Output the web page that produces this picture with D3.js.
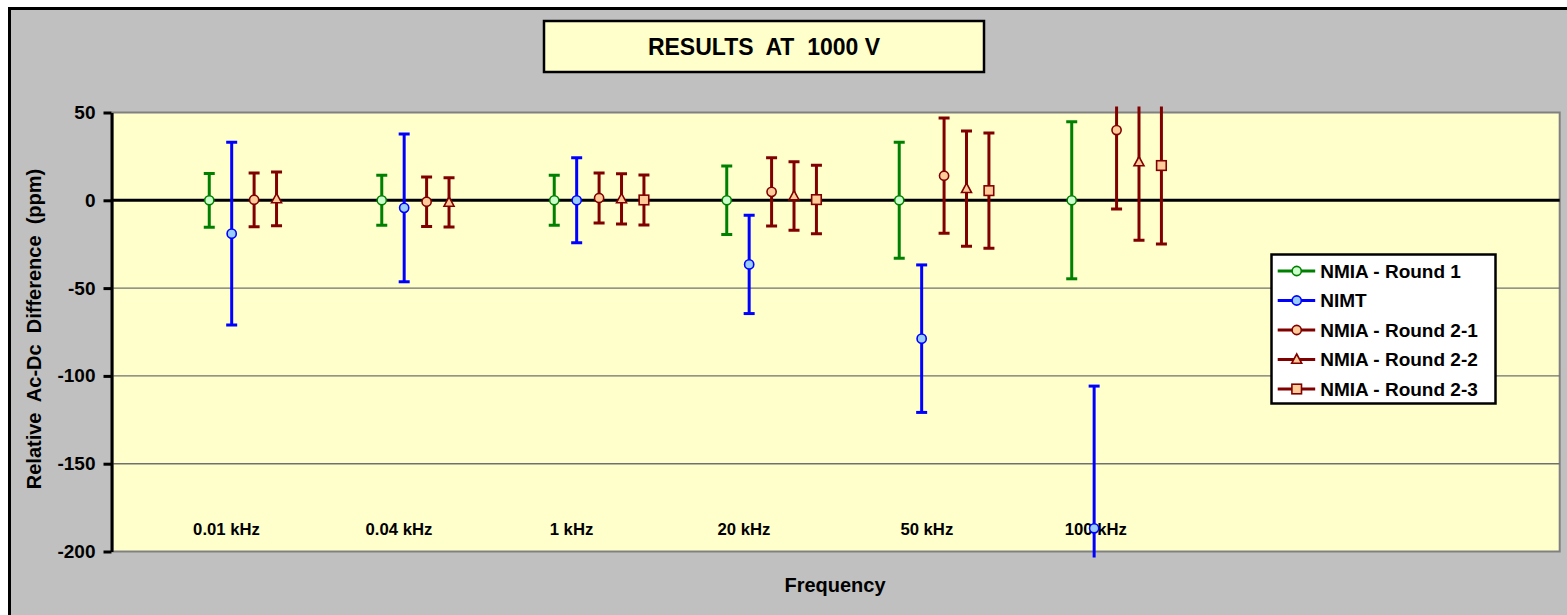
<!DOCTYPE html>
<html>
<head>
<meta charset="utf-8">
<script src="https://cdn.jsdelivr.net/npm/d3@7"></script>
<style>
  body { margin: 0; background: #fff; }
  text { font-family: "Liberation Sans", Arial, sans-serif; font-weight: bold; fill: #000; }
</style>
</head>
<body>
<div class="chart"></div>
<script>
// categories and series
var categories = ["0.01 kHz", "0.04 kHz", "1 kHz", "20 kHz", "50 kHz", "100 kHz"];
var labelShift = [0.10, 0.10, 0.10, 0.10, 0.16, 0.14];
var seriesNames = ["NMIA - Round 1", "NIMT", "NMIA - Round 2-1", "NMIA - Round 2-2", "NMIA - Round 2-3"];
var seriesShift = [0, 0.13, 0.26, 0.39, 0.52];

var nmiaRound1 = [0, 0, 0, 0, 0, 0];
var nmiaRound1Err = [15.3, 14.2, 14.2, 19.5, 33, 44.7];
var nimt = [-19, -4.3, 0, -36.5, -78.8, -186.8];
var nimtErr = [52, 42.1, 24.2, 28, 42, 81];
var nmiaRound21 = [0.3, -0.8, 1.3, 4.8, 14, 40];
var nmiaRound21Err = [15.3, 14.1, 14.2, 19.5, 32.8, 45];
var nmiaRound22 = [0.8, -1.2, 0.8, 2.4, 6.6, 21.8];
var nmiaRound22Err = [15.3, 14, 14.3, 19.5, 32.8, 44.5];
var nmiaRound23 = [null, null, 0.2, 0.4, 5.5, 19.8];
var nmiaRound23Err = [null, null, 14.2, 19.5, 32.8, 44.7];

var yTicks = [50, 0, -50, -100, -150, -200];

var svgWidth = 1567;
var svgHeight = 615;

var plot = { left: 112.5, right: 1559.7, top: 112.5, bottom: 551.5 };

var styles = [
  { line: "#008000", fill: "#CCFFCC", shape: "circle" },
  { line: "#0000FF", fill: "#99CCFF", shape: "circle" },
  { line: "#800000", fill: "#FFCC99", shape: "circle" },
  { line: "#800000", fill: "#FFCC99", shape: "triangle" },
  { line: "#800000", fill: "#FFCC99", shape: "square" }
];

var values = [nmiaRound1, nimt, nmiaRound21, nmiaRound22, nmiaRound23];
var errors = [nmiaRound1Err, nimtErr, nmiaRound21Err, nmiaRound22Err, nmiaRound23Err];

var svg = d3.select(".chart")
  .append("svg")
  .attr("width", svgWidth)
  .attr("height", svgHeight);

// chart area frame
svg.append("rect")
  .attr("x", 9.5).attr("y", 8.5)
  .attr("width", 1700).attr("height", 800)
  .attr("fill", "#C0C0C0")
  .attr("stroke", "#000").attr("stroke-width", 3);

var x = d3.scaleLinear()
  .domain([-0.561, 7.829])
  .range([plot.left, plot.right]);

var y = d3.scaleLinear()
  .domain([-200, 50])
  .range([plot.bottom, plot.top]);

// plot area
svg.append("rect")
  .attr("x", plot.left).attr("y", plot.top)
  .attr("width", plot.right - plot.left).attr("height", plot.bottom - plot.top)
  .attr("fill", "#FFFFCC")
  .attr("stroke", "#808080").attr("stroke-width", 2);

// gridlines
svg.append("g")
  .selectAll("line")
  .data(yTicks.filter(d => d < 50 && d > -200 && d !== 0))
  .enter()
  .append("line")
  .attr("x1", plot.left).attr("x2", plot.right)
  .attr("y1", d => y(d)).attr("y2", d => y(d))
  .attr("stroke", "#707070").attr("stroke-width", 1.4);

// zero line
svg.append("line")
  .attr("x1", plot.left).attr("x2", plot.right)
  .attr("y1", y(0)).attr("y2", y(0))
  .attr("stroke", "#000").attr("stroke-width", 3);

// y axis
var leftAxis = d3.axisLeft(y)
  .tickValues(yTicks)
  .tickSize(8)
  .tickSizeOuter(0)
  .tickPadding(8)
  .tickFormat(d => String(d));

var yAxis = svg.append("g")
  .attr("transform", `translate(${plot.left - 1}, 0)`)
  .call(leftAxis);
yAxis.select(".domain").attr("stroke", "#000").attr("stroke-width", 3);
yAxis.selectAll(".tick line").attr("stroke", "#000").attr("stroke-width", 3);
yAxis.selectAll(".tick text")
  .attr("font-size", "19px")
  .attr("font-family", "'Liberation Sans', Arial, sans-serif")
  .attr("font-weight", "bold")
  .attr("fill", "#000");

// category labels
svg.append("g")
  .selectAll("text")
  .data(categories)
  .enter()
  .append("text")
  .attr("x", (d, i) => x(i + labelShift[i]))
  .attr("y", 535)
  .attr("text-anchor", "middle")
  .attr("font-size", "16.7px")
  .text(d => d);

// markers
function marker(sel, shape) {
  if (shape === "circle") {
    sel.append("circle").attr("r", 4.6);
  } else if (shape === "triangle") {
    sel.append("path").attr("d", "M0,-5.5L5,3.8L-5,3.8Z");
  } else {
    sel.append("rect").attr("x", -4.8).attr("y", -4.8).attr("width", 9.6).attr("height", 9.6);
  }
}

svg.append("defs").append("clipPath")
  .attr("id", "barclip")
  .append("rect")
  .attr("x", plot.left).attr("y", plot.top - 6)
  .attr("width", plot.right - plot.left).attr("height", plot.bottom - plot.top + 12);

var seriesGroup = svg.append("g").attr("clip-path", "url(#barclip)");

values.forEach(function(vals, s) {
  var st = styles[s];
  var pts = vals.map(function(v, i) {
    return { i: i, v: v, e: errors[s][i] };
  }).filter(d => d.v !== null);

  var g = seriesGroup.append("g");

  g.selectAll("line.bar")
    .data(pts)
    .enter()
    .append("line")
    .attr("class", "bar")
    .attr("x1", d => x(d.i + seriesShift[s]))
    .attr("x2", d => x(d.i + seriesShift[s]))
    .attr("y1", d => y(d.v + d.e))
    .attr("y2", d => y(d.v - d.e))
    .attr("stroke", st.line).attr("stroke-width", 3);

  [1, -1].forEach(function(sign) {
    g.selectAll(null)
      .data(pts)
      .enter()
      .append("line")
      .attr("x1", d => x(d.i + seriesShift[s]) - 5.5)
      .attr("x2", d => x(d.i + seriesShift[s]) + 5.5)
      .attr("y1", d => y(d.v + sign * d.e))
      .attr("y2", d => y(d.v + sign * d.e))
      .attr("stroke", st.line).attr("stroke-width", 3);
  });

  g.selectAll("g.pt")
    .data(pts)
    .enter()
    .append("g")
    .attr("class", "pt")
    .attr("transform", d => `translate(${x(d.i + seriesShift[s])}, ${y(d.v)})`)
    .call(marker, st.shape)
    .selectAll("*")
    .attr("fill", st.fill)
    .attr("stroke", st.line)
    .attr("stroke-width", 1.6);
});

// title box
svg.append("rect")
  .attr("x", 544).attr("y", 21)
  .attr("width", 440).attr("height", 51)
  .attr("fill", "#FFFFCC")
  .attr("stroke", "#000").attr("stroke-width", 2.5);

svg.append("text")
  .attr("x", 764).attr("y", 55)
  .attr("text-anchor", "middle")
  .attr("font-size", "23px")
  .attr("xml:space", "preserve")
  .text("RESULTS  AT  1000 V");

// axis titles
svg.append("text")
  .attr("transform", "translate(41, 329) rotate(-90)")
  .attr("text-anchor", "middle")
  .attr("font-size", "20px")
  .attr("xml:space", "preserve")
  .text("Relative  Ac-Dc  Difference  (ppm)");

svg.append("text")
  .attr("x", 835).attr("y", 592)
  .attr("text-anchor", "middle")
  .attr("font-size", "20px")
  .text("Frequency");

// legend
var legend = svg.append("g");
legend.append("rect")
  .attr("x", 1271.5).attr("y", 254.5)
  .attr("width", 224).attr("height", 149)
  .attr("fill", "#fff")
  .attr("stroke", "#000").attr("stroke-width", 2.5);

var rows = legend.selectAll("g.row")
  .data(seriesNames)
  .enter()
  .append("g")
  .attr("class", "row")
  .attr("transform", (d, i) => `translate(1296.7, ${271 + i * 29.5})`);

rows.append("line")
  .attr("x1", -19).attr("x2", 18.5)
  .attr("stroke", (d, i) => styles[i].line)
  .attr("stroke-width", 3);

rows.each(function(d, i) {
  d3.select(this).append("g")
    .call(marker, styles[i].shape)
    .selectAll("*")
    .attr("fill", styles[i].fill)
    .attr("stroke", styles[i].line)
    .attr("stroke-width", 1.6);
});

rows.append("text")
  .attr("x", 23.5)
  .attr("dy", "0.36em")
  .attr("font-size", "19px")
  .text(d => d);
</script>
</body>
</html>
